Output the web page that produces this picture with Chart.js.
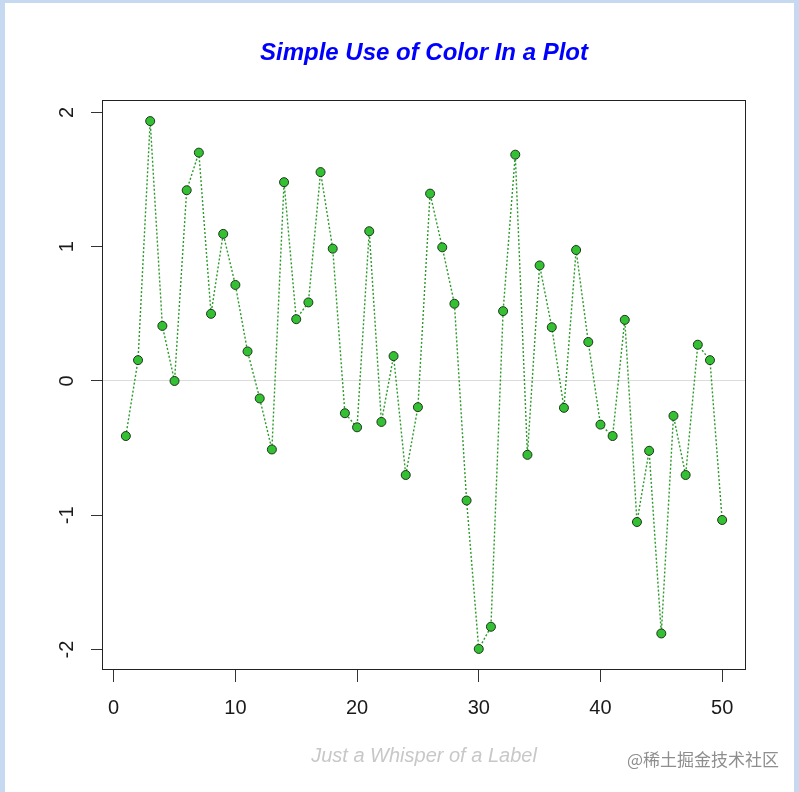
<!DOCTYPE html>
<html>
<head>
<meta charset="utf-8">
<script src="https://cdn.jsdelivr.net/npm/chart.js@4/dist/chart.umd.min.js"></script>
<style>
  html, body { margin: 0; padding: 0; background: #ffffff; }
  #wrap { position: relative; width: 799px; height: 792px; overflow: hidden; background: #ffffff; }
  #c { position: absolute; left: 0; top: 0; }
  #frame { position: absolute; left: 0; top: 0; width: 799px; height: 792px; box-sizing: border-box;
           border-left: 5px solid #c6d9f0; border-top: 3px solid #c6d9f0; border-right: 5px solid #c6d9f0;
           pointer-events: none; }
  #wm { position: absolute; left: 627px; top: 748px; font-family: "Noto Sans CJK SC", sans-serif;
        font-size: 17px; line-height: 22px; color: #8e8e8e; white-space: nowrap; }
</style>
</head>
<body>
<div id="wrap">
  <canvas id="c" width="799" height="792"></canvas>
  <div id="frame"></div>
  <div id="wm">@稀土掘金技术社区</div>
</div>
<script>
// ---- data ----
const indexValues = [1,2,3,4,5,6,7,8,9,10,11,12,13,14,15,16,17,18,19,20,21,22,23,24,25,
                     26,27,28,29,30,31,32,33,34,35,36,37,38,39,40,41,42,43,44,45,46,47,48,49,50];
const seriesValues = [-0.41, 0.155, 1.935, 0.41, 0.0, 1.42, 1.70, 0.50, 1.095, 0.715,
                      0.22, -0.13, -0.51, 1.48, 0.46, 0.585, 1.555, 0.985, -0.24, -0.345,
                      1.115, -0.305, 0.185, -0.70, -0.195, 1.395, 0.995, 0.575, -0.89, -1.995,
                      -1.83, 0.52, 1.685, -0.55, 0.86, 0.40, -0.20, 0.975, 0.29, -0.325,
                      -0.41, 0.455, -1.05, -0.52, -1.88, -0.26, -0.70, 0.27, 0.155, -1.035];
const xTickValues = [0, 10, 20, 30, 40, 50];
const yTickValues = [-2, -1, 0, 1, 2];
const chartTitle = 'Simple Use of Color In a Plot';
const xAxisLabel = 'Just a Whisper of a Label';

const points = indexValues.map((x, i) => ({ x: x, y: seriesValues[i] }));

const boxPlugin = {
  id: 'rbox',
  afterDatasetsDraw(chart) {
    const a = chart.chartArea, ctx = chart.ctx;
    ctx.save();
    ctx.strokeStyle = '#222222';
    ctx.lineWidth = 1;
    ctx.strokeRect(Math.round(a.left) + 0.5, Math.round(a.top) + 0.5,
                   Math.round(a.right - a.left) - 1, Math.round(a.bottom - a.top) - 1);
    ctx.restore();
  }
};

const FONT = "'Liberation Sans', Arial, sans-serif";

new Chart(document.getElementById('c'), {
  type: 'line',
  data: {
    datasets: [{
      data: points,
      borderColor: '#2a9a2a',
      borderWidth: 1.4,
      borderDash: [2, 2],
      pointRadius: 4.5,
      pointBackgroundColor: '#33c133',
      pointBorderColor: '#1c351c',
      pointBorderWidth: 1,
      tension: 0,
      fill: false
    }]
  },
  options: {
    responsive: false,
    animation: false,
    events: [],
    layout: { padding: { left: 0, right: 53, top: 0, bottom: 0 } },
    plugins: {
      legend: { display: false },
      tooltip: { enabled: false },
      title: {
        display: true,
        text: chartTitle,
        fullSize: false,
        color: '#0000ff',
        font: { family: FONT, size: 24, weight: 'bold', style: 'italic', lineHeight: 1.25 },
        padding: { top: 38, bottom: 32 }
      }
    },
    scales: {
      x: {
        type: 'linear',
        min: -0.96,
        max: 51.96,
        afterBuildTicks: (s) => { s.ticks = xTickValues.map(v => ({ value: v })); },
        afterFit: (s) => { s.height = 122; },
        border: { display: false },
        grid: { drawOnChartArea: false, drawTicks: true, tickLength: 12, tickColor: '#333333', lineWidth: 1 },
        ticks: { color: '#1a1a1a', font: { family: FONT, size: 20 }, padding: 14, maxRotation: 0, autoSkip: false },
        title: {
          display: true,
          text: xAxisLabel,
          color: '#c8c8c8',
          font: { family: FONT, size: 20, style: 'italic', lineHeight: 1.2 },
          padding: { top: 0, bottom: 24 }
        }
      },
      y: {
        type: 'linear',
        min: -2.152,
        max: 2.092,
        afterBuildTicks: (s) => { s.ticks = yTickValues.map(v => ({ value: v })); },
        afterFit: (s) => { s.width = 102; },
        border: { display: false },
        grid: {
          drawOnChartArea: true,
          drawTicks: true,
          tickLength: 11,
          tickColor: '#333333',
          color: (ctx) => (ctx.tick && ctx.tick.value === 0) ? '#dcdcdc' : 'rgba(0,0,0,0)',
          lineWidth: 1
        },
        ticks: { color: '#1a1a1a', font: { family: FONT, size: 20 }, padding: 15,
                 minRotation: 90, maxRotation: 90, crossAlign: 'center', autoSkip: false }
      }
    }
  },
  plugins: [boxPlugin]
});
</script>
</body>
</html>
